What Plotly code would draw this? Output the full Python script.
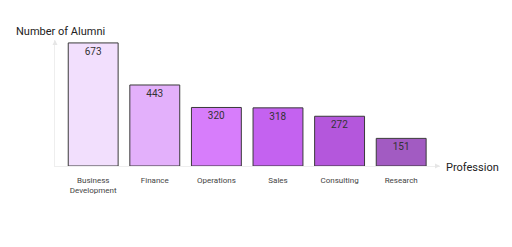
import plotly.graph_objects as go

categories = ["Business<br>Development", "Finance", "Operations", "Sales", "Consulting", "Research"]
values = [673, 443, 320, 318, 272, 151]
colors = ["#f2dffd", "#e3b0fb", "#d77dfb", "#c462f0", "#b457dc", "#a25bc2"]

fig = go.Figure(go.Bar(
    x=categories, y=values,
    marker=dict(color=colors, line=dict(color="#3a3a3a", width=1)),
    width=0.81,
    text=[str(v) for v in values],
    textposition="inside", insidetextanchor="end",
    textfont=dict(family="Roboto", size=10, color="#333333"),
    cliponaxis=False,
))

fig.update_layout(
    width=512, height=247,
    margin=dict(l=55, r=72, t=40, b=81),
    paper_bgcolor="white", plot_bgcolor="white",
    showlegend=False,
    font=dict(family="Roboto", color="#333333"),
    xaxis=dict(range=[-0.62, 5.63], showgrid=False, zeroline=False,
               showline=True, linecolor="#eeeeee", linewidth=1,
               ticks="outside", ticklen=6, tickcolor="rgba(0,0,0,0)",
               tickfont=dict(family="Roboto", size=8, color="#444444")),
    yaxis=dict(range=[0, 689], showgrid=False, zeroline=False,
               showline=True, linecolor="#eeeeee", linewidth=1,
               showticklabels=False, ticks=""),
    annotations=[
        dict(text="Number of Alumni", xref="paper", yref="paper", x=-55/385 + 14/385, y=1.0,
             xanchor="left", yanchor="bottom", yshift=0, showarrow=False,
             font=dict(family="Roboto", size=11, color="#222222")),
        dict(text="Profession", xref="paper", yref="paper", x=1.0, y=0,
             xanchor="left", yanchor="middle", xshift=4, yshift=-1, showarrow=False,
             font=dict(family="Roboto", size=11, color="#222222")),
        dict(text="", xref="paper", yref="paper", x=0, y=1.0, ax=0, ay=6,
             showarrow=True, arrowhead=2, arrowsize=1, arrowwidth=1, arrowcolor="#e6e6e6"),
        dict(text="", xref="paper", yref="paper", x=1.0, y=0, ax=-6, ay=0,
             showarrow=True, arrowhead=2, arrowsize=1, arrowwidth=1, arrowcolor="#e6e6e6"),
    ],
)
fig.write_html("out.html")
